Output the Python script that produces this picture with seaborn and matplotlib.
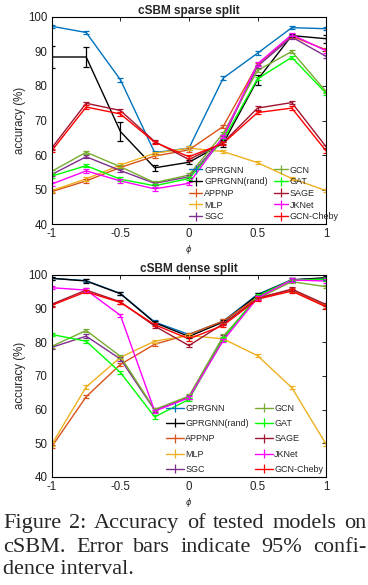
import numpy as np
import pandas as pd
import seaborn as sns
import matplotlib.pyplot as plt

phi = [-1, -0.75, -0.5, -0.25, 0, 0.25, 0.5, 0.75, 1]
models = ['GPRGNN', 'GPRGNN(rand)', 'APPNP', 'MLP', 'SGC',
          'GCN', 'GAT', 'SAGE', 'JKNet', 'GCN-Cheby']
colors = ['#0072BD', '#000000', '#D95319', '#EDB120', '#7E2F8E',
          '#77AC30', '#00FF00', '#A2142F', '#FF00FF', '#FF0000']

# sparse split accuracies
sp_gprgnn = [97.3, 95.5, 81.8, 60.7, 62.0, 82.3, 89.5, 96.9, 96.6]
sp_rand = [88.4, 88.4, 66.8, 56.3, 57.9, 63.4, 81.8, 94.6, 93.7]
sp_appnp = [49.4, 52.5, 56.4, 59.7, 61.5, 68.3, 86.2, 94.4, 90.5]
sp_mlp = [49.7, 53.1, 57.1, 60.5, 62.0, 61.0, 57.8, 53.2, 49.7]
sp_sgc = [54.4, 59.5, 55.5, 51.8, 53.7, 65.0, 85.7, 94.2, 88.6]
sp_gcn = [55.3, 60.8, 56.6, 52.0, 54.2, 66.3, 84.5, 90.0, 78.4]
sp_gat = [53.9, 56.9, 53.0, 51.1, 53.2, 64.4, 82.1, 88.3, 77.9]
sp_sage = [62.1, 75.0, 72.9, 63.9, 58.7, 63.6, 73.6, 75.2, 62.4]
sp_jknet = [51.6, 55.4, 52.5, 50.2, 51.8, 65.3, 86.4, 94.9, 90.2]
sp_cheby = [61.3, 73.9, 71.9, 63.7, 59.5, 63.4, 72.3, 73.6, 61.2]
sp_rand_err = [3.3, 3.0, 2.8, 0.9, 0.6, 1.0, 1.5, 0.5, 1.2]

# dense split accuracies
de_gprgnn = [99.0, 98.3, 94.5, 86.0, 82.3, 86.3, 94.2, 98.6, 99.0]
de_rand = [99.0, 98.2, 94.4, 85.8, 81.7, 86.0, 94.0, 98.5, 99.2]
de_appnp = [49.0, 63.8, 73.4, 79.4, 82.3, 86.3, 93.3, 95.5, 90.8]
de_mlp = [49.7, 66.7, 75.5, 80.3, 82.0, 81.0, 76.0, 66.5, 49.7]
de_sgc = [78.5, 81.8, 75.0, 59.8, 63.7, 81.5, 93.5, 98.5, 98.8]
de_gcn = [78.8, 83.5, 75.8, 60.0, 64.0, 81.8, 93.0, 98.0, 96.5]
de_gat = [82.3, 80.3, 71.0, 57.8, 63.0, 81.0, 93.8, 98.5, 98.7]
de_sage = [91.3, 95.5, 92.0, 84.8, 79.0, 85.5, 93.0, 95.8, 91.2]
de_jknet = [96.2, 95.5, 88.0, 59.5, 63.5, 80.5, 93.2, 98.5, 98.2]
de_cheby = [91.0, 95.0, 91.8, 85.2, 81.0, 85.0, 92.8, 95.2, 90.5]
base_err = 0.5

sparse = [sp_gprgnn, sp_rand, sp_appnp, sp_mlp, sp_sgc,
          sp_gcn, sp_gat, sp_sage, sp_jknet, sp_cheby]
dense = [de_gprgnn, de_rand, de_appnp, de_mlp, de_sgc,
         de_gcn, de_gat, de_sage, de_jknet, de_cheby]

sns.set_style('white')
plt.rcParams['font.family'] = ['Liberation Sans', 'DejaVu Sans']
plt.rcParams['axes.linewidth'] = 0.8

fig = plt.figure(figsize=(3.68, 5.85), dpi=100)
ax1 = fig.add_axes([0.141, 0.617, 0.745, 0.354])
ax2 = fig.add_axes([0.141, 0.185, 0.745, 0.345])


def draw(ax, series, title, errs, leg_anchor, leg_spacing, hlen):
    rows = []
    for m, vals in zip(models, series):
        for x, v in zip(phi, vals):
            rows.append({'phi': x, 'acc': v, 'model': m})
    df = pd.DataFrame(rows)
    sns.lineplot(data=df, x='phi', y='acc', hue='model', hue_order=models,
                 palette=colors, linewidth=1.0, legend=False, ax=ax)
    handles = []
    for i, (m, vals) in enumerate(zip(models, series)):
        e = errs.get(m, [base_err] * len(phi))
        ax.errorbar(phi, vals, yerr=e, fmt='none', ecolor=colors[i],
                    elinewidth=0.9, capsize=2, capthick=0.9)
        h = ax.errorbar([], [], yerr=[], fmt='-', color=colors[i],
                        elinewidth=0.9, capsize=2.5, lw=1.0, label=m)
        handles.append(h)
    ax.set_xlim(-1, 1)
    ax.set_ylim(40, 100)
    ax.set_xticks([-1, -0.5, 0, 0.5, 1])
    ax.set_xticklabels(['-1', '-0.5', '0', '0.5', '1'])
    ax.set_yticks([40, 50, 60, 70, 80, 90, 100])
    ax.tick_params(direction='in', length=3, labelsize=8.3, width=0.6,
                   top=True, right=True, pad=3, colors='black')
    ax.tick_params(labelcolor='#222222')
    ax.set_xlabel(r'$\phi$', fontsize=6, labelpad=2)
    ax.set_ylabel('accuracy (%)', fontsize=8.3, labelpad=2)
    ax.set_title(title, fontsize=8.5, fontweight='bold', pad=2)
    for s in ax.spines.values():
        s.set_visible(True)
        s.set_color('black')
    ax.legend(handles=handles, ncol=2, loc='lower right',
              bbox_to_anchor=leg_anchor, frameon=False, fontsize=6.5,
              handlelength=hlen, handletextpad=0.2, columnspacing=0.7,
              labelspacing=leg_spacing, borderpad=0.1, borderaxespad=0.2)


draw(ax1, sparse, 'cSBM sparse split', {'GPRGNN(rand)': sp_rand_err},
     (1.055, 0.0), 0.3, 1.5)
draw(ax2, dense, 'cSBM dense split', {}, (1.0, 0.0), 0.7, 1.9)

cap_line1 = 'Figure 2: Accuracy of tested models on'
cap_line2 = 'cSBM. Error bars indicate 95% confi-'
cap_line3 = 'dence interval.'
cap_size = 16


def justify(text, y, x0=3, x1=366):
    words = text.split()
    objs = [fig.text(0, y, w, family='Liberation Serif', fontsize=cap_size,
                     va='baseline') for w in words]
    fig.canvas.draw()
    r = fig.canvas.get_renderer()
    widths = [t.get_window_extent(r).width for t in objs]
    gap = (x1 - x0 - sum(widths)) / (len(words) - 1)
    x = x0
    W = fig.bbox.width
    for t, w in zip(objs, widths):
        t.set_x(x / W)
        x += w + gap


justify(cap_line1, 0.097)
justify(cap_line2, 0.057)
fig.text(3 / 368, 0.018, cap_line3, family='Liberation Serif',
         fontsize=cap_size, va='baseline')

fig.savefig('out.png', dpi=100, facecolor='white')
